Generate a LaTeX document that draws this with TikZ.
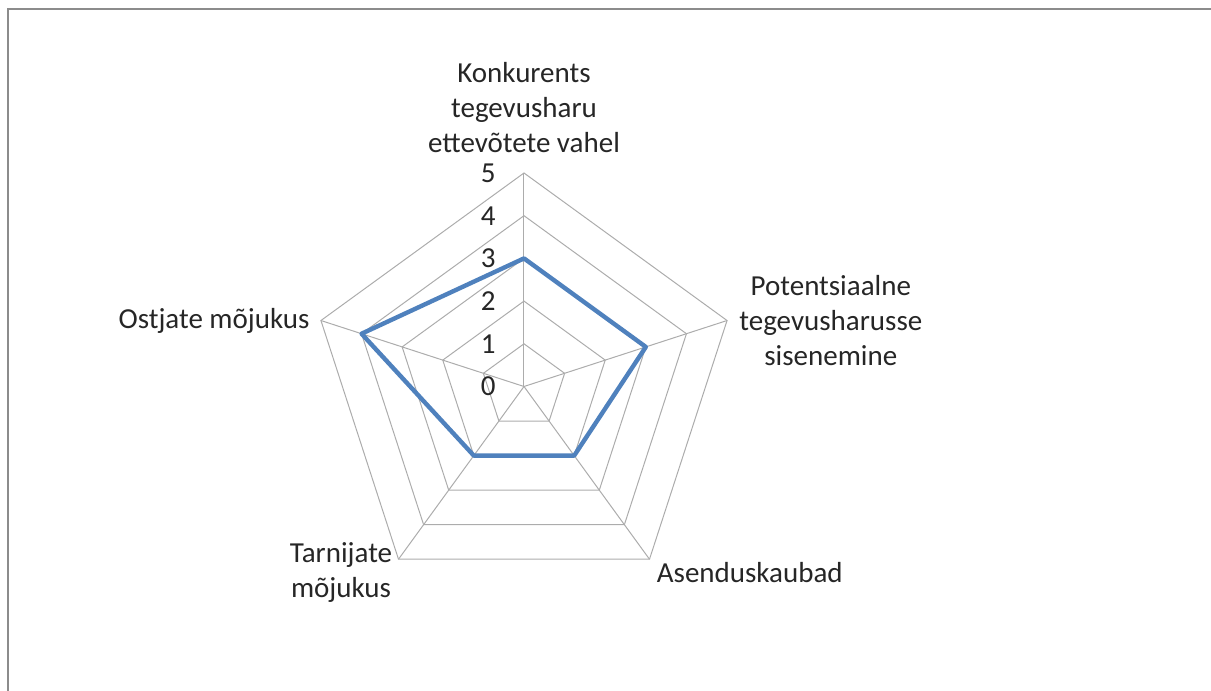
\documentclass[tikz,border=0pt]{standalone}
\usepackage{fontspec}
\setmainfont{Carlito}
\usetikzlibrary{positioning}
\definecolor{seriesblue}{RGB}{79,129,189}

\begin{document}
\begin{tikzpicture}
        [x=0.5pt,y=0.5pt,
         every node/.style={font=\fontsize{14.5}{17.5}\selectfont,text=black!85,inner sep=0pt},
         grid/.style={draw=gray!65,line width=0.5pt},
         series/.style={draw=seriesblue,line width=2.2pt,line join=round}]
        \useasboundingbox (-524,-304.5) rectangle (687,386.5);
        \draw[gray!90,line width=1.2pt] (-516,-304.5) -- (-516,377.5) -- (687,377.5);

        % spokes
        \coordinate (o) at (0,0);
        \foreach \ang [count=\i] in {90,18,-54,-126,162} {
            \coordinate (v\i) at (\ang:213.5);
            \draw[grid] (o) -- (v\i);
        }
        % rings
        \foreach \r in {1,...,5}
            \draw[grid] (90:42.7*\r) -- (18:42.7*\r) -- (-54:42.7*\r)
                -- (-126:42.7*\r) -- (162:42.7*\r) -- cycle;

        % values
        \coordinate (d1) at (90:42.7*3);
        \coordinate (d2) at (18:42.7*3);
        \coordinate (d3) at (-54:42.7*2);
        \coordinate (d4) at (-126:42.7*2);
        \coordinate (d5) at (162:42.7*4);
        \draw[series] (d1) -- (d2) -- (d3) -- (d4) -- (d5) -- cycle;

        % scale
        \foreach \r in {0,...,5}
            \node[anchor=east] (t\r) at (-28,42.7*\r) {\r};

        \node[above=10pt of v1,align=center] (konk) {Konkurents\\tegevusharu\\ettevõtete vahel};
        \node[right=6pt of v2,align=center] (pot) {Potentsiaalne\\tegevusharusse\\sisenemine};
        \node[below right=1.5pt and 3.5pt of v3] (asend) {Asenduskaubad};
        \node[left=3pt of v4,yshift=-6.5pt,align=center] (tarn) {Tarnijate\\mõjukus};
        \node[left=5.5pt of v5] (ostj) {Ostjate mõjukus};
    \end{tikzpicture}
\end{document}
